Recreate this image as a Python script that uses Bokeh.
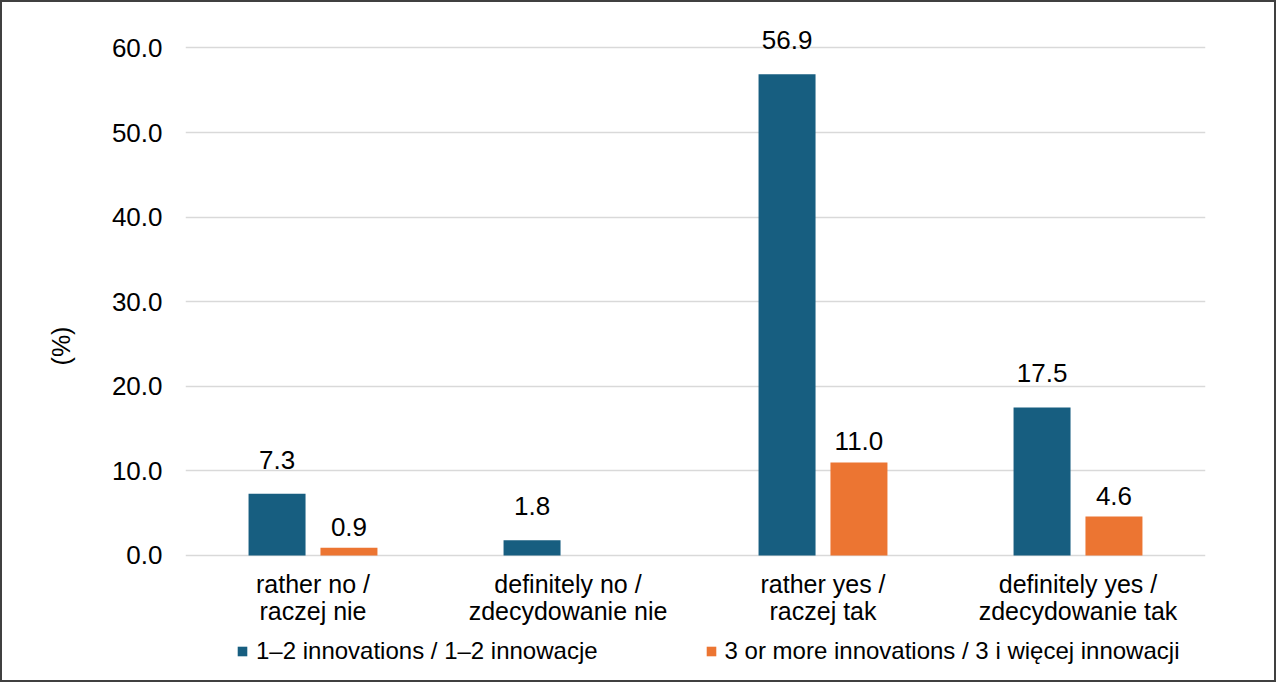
from bokeh.plotting import figure
from bokeh.models import (ColumnDataSource, FactorRange, Range1d, FixedTicker,
                          PrintfTickFormatter, Legend, LegendItem)
from bokeh.transform import dodge
from bokeh.embed import file_html
from bokeh.resources import INLINE
from bokeh.core.properties import value

# ---- data ----
categories = ["rather no /\nraczej nie", "definitely no /\nzdecydowanie nie",
              "rather yes /\nraczej tak", "definitely yes /\nzdecydowanie tak"]
series_names = ["1–2 innovations / 1–2 innowacje",
                "3 or more innovations / 3 i więcej innowacji"]
values_1_2 = [7.3, 1.8, 56.9, 17.5]
values_3plus = [0.9, None, 11.0, 4.6]
y_ticks = [0, 10, 20, 30, 40, 50, 60]
y_label = "(%)"

BLUE = "#175E80"
ORANGE = "#EC7532"
FONT = "Liberation Sans"
FS_NUM = "26px"
FS_TXT = "25px"
FS_LEG = "24px"

src1 = ColumnDataSource(dict(cat=categories, v=values_1_2,
                             t=[f"{v:.1f}" for v in values_1_2]))
cats2 = [c for c, v in zip(categories, values_3plus) if v is not None]
vals2 = [v for v in values_3plus if v is not None]
src2 = ColumnDataSource(dict(cat=cats2, v=vals2, t=[f"{v:.1f}" for v in vals2]))
src_cat = ColumnDataSource(dict(cat=categories, base=[0] * len(categories)))

p = figure(width=1276, height=682, output_backend="svg", toolbar_location=None,
           x_range=FactorRange(factors=categories, range_padding=0),
           y_range=Range1d(-14.07, 63.6),
           min_border_left=183, min_border_right=73, min_border_top=15,
           min_border_bottom=10)
p.styles = {"border": "2px solid #404040"}
p.outline_line_color = None
p.background_fill_color = "white"
p.border_fill_color = "white"

off = 0.141
bw = 0.2235
r1 = p.vbar(x=dodge("cat", -off, range=p.x_range), top="v", width=bw,
            source=src1, fill_color=BLUE, line_color=None)
r2 = p.vbar(x=dodge("cat", off, range=p.x_range), top="v", width=bw,
            source=src2, fill_color=ORANGE, line_color=None)

p.text(x=dodge("cat", -off, range=p.x_range), y="v", text="t", source=src1,
       text_align="center", text_baseline="bottom", y_offset=-25,
       text_font=value(FONT), text_font_size=FS_NUM, text_color="black")
p.text(x=dodge("cat", off, range=p.x_range), y="v", text="t", source=src2,
       text_align="center", text_baseline="bottom", y_offset=-12,
       text_font=value(FONT), text_font_size=FS_NUM, text_color="black")

# category labels below the zero line
p.text(x="cat", y="base", text="cat", source=src_cat,
       text_align="center", text_baseline="top", y_offset=15,
       text_line_height=0.95,
       text_font=value(FONT), text_font_size=FS_TXT, text_color="black")

# axes
p.yaxis.ticker = FixedTicker(ticks=y_ticks)
p.yaxis.formatter = PrintfTickFormatter(format="%.1f")
p.yaxis.axis_line_color = None
p.yaxis.major_tick_line_color = None
p.yaxis.minor_tick_line_color = None
p.yaxis.major_tick_in = 0
p.yaxis.major_tick_out = 0
p.yaxis.major_label_standoff = 23
p.yaxis.major_label_text_font = FONT
p.yaxis.major_label_text_font_size = FS_NUM
p.yaxis.major_label_text_color = "black"
p.yaxis.axis_label = y_label
p.yaxis.axis_label_text_font = FONT
p.yaxis.axis_label_text_font_size = FS_TXT
p.yaxis.axis_label_text_font_style = "normal"
p.yaxis.axis_label_text_color = "black"
p.yaxis.axis_label_standoff = 34
p.xaxis.visible = False

p.xgrid.grid_line_color = None
p.ygrid.ticker = FixedTicker(ticks=y_ticks)
p.ygrid.grid_line_color = "#d9d9d9"
p.ygrid.grid_line_width = 1.5

legend = Legend(items=[LegendItem(label=series_names[0], renderers=[r1]),
                       LegendItem(label=series_names[1], renderers=[r2])],
                orientation="horizontal", location=(51, 9), padding=0, margin=0,
                spacing=107, glyph_width=12, glyph_height=12, label_standoff=8,
                border_line_color=None, background_fill_alpha=0,
                label_text_font=FONT, label_text_font_size=FS_LEG,
                label_text_color="black")
p.add_layout(legend)

open("out.html", "w").write(file_html(p, INLINE))
